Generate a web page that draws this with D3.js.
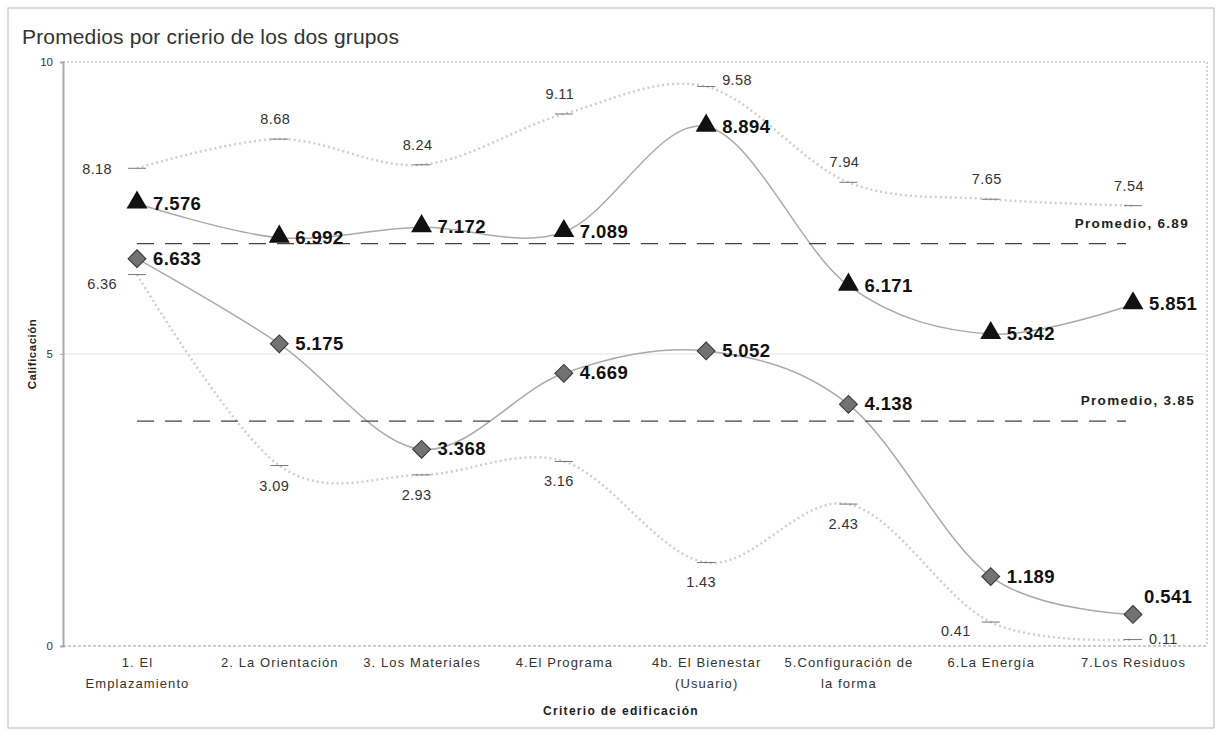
<!DOCTYPE html>
<html><head><meta charset="utf-8">
<script src="https://cdn.jsdelivr.net/npm/d3@7"></script>
<style>
body{margin:0;background:#fff;}
text{font-family:"Liberation Sans",Arial,sans-serif;}
</style></head>
<body><svg id="c" width="1216" height="733"></svg>
<script>
const categories = [["1. El","Emplazamiento"],["2. La Orientación"],["3. Los Materiales"],["4.El Programa"],["4b. El Bienestar","(Usuario)"],["5.Configuración de","la forma"],["6.La Energía"],["7.Los Residuos"]];
const groupA = [7.576, 6.992, 7.172, 7.089, 8.894, 6.171, 5.342, 5.851];
const groupB = [6.633, 5.175, 3.368, 4.669, 5.052, 4.138, 1.189, 0.541];
const maxA = [8.18, 8.68, 8.24, 9.11, 9.58, 7.94, 7.65, 7.54];
const minB = [6.36, 3.09, 2.93, 3.16, 1.43, 2.43, 0.41, 0.11];
const averages = [6.89, 3.85];
const averageLabels = ["Promedio, 6.89", "Promedio, 3.85"];
const yTicks = [0, 5, 10];
const maxPlace = ["left","above","above","above","right","above","above","above"];
const minPlace = ["lowleft","below","below","below","below","below","lowleft","right"];

const svg = d3.select("#c");
const x = d3.scalePoint().domain(categories.map((d,i)=>i)).range([137, 1133]);
const y = d3.scaleLinear().domain([0,10]).range([646, 62]);
const L = 63, R = 1207;

// outer frame
svg.append("rect").attr("x",8).attr("y",8).attr("width",1206).attr("height",720)
  .attr("fill","none").attr("stroke","#c4c4c4").attr("stroke-width",1.2);

// title
svg.append("text").attr("x",22).attr("y",44).attr("font-size",21).attr("fill","#333")
  .attr("letter-spacing",0.15).text("Promedios por crierio de los dos grupos");

// plot border
svg.append("line").attr("x1",L).attr("x2",R).attr("y1",y(10)).attr("y2",y(10)).attr("stroke","#aaa").attr("stroke-dasharray","2,2");
svg.append("line").attr("x1",R).attr("x2",R).attr("y1",y(10)).attr("y2",y(0)).attr("stroke","#aaa").attr("stroke-dasharray","2,2");
svg.append("line").attr("x1",L).attr("x2",R).attr("y1",y(5)).attr("y2",y(5)).attr("stroke","#eee").attr("stroke-width",1.5);

// y axis
const yAxis = svg.append("g").attr("transform",`translate(${L},0)`)
  .call(d3.axisLeft(y).tickValues(yTicks).tickSize(3).tickFormat(d3.format("d")));
yAxis.select(".domain").attr("stroke","#aaa").attr("stroke-width",2);
yAxis.selectAll(".tick line").attr("stroke","#aaa");
yAxis.selectAll("text").attr("font-size",11.5).attr("fill","#333").attr("x",-10);

// x axis
const xAxis = svg.append("g").attr("transform",`translate(0,${y(0)})`)
  .call(d3.axisBottom(x).tickSize(0).tickFormat(""));
xAxis.select(".domain").attr("d",`M${L},0H${R}`).attr("stroke","#999").attr("stroke-dasharray","3,2");
xAxis.selectAll(".tick").each(function(d){
  const t = d3.select(this).append("text").attr("text-anchor","middle").attr("font-size",13).attr("fill","#333").attr("letter-spacing",1.1);
  categories[d].forEach((s,k)=>t.append("tspan").attr("x",0).attr("y",21+k*21).text(s));
});

svg.append("text").attr("x",621).attr("y",715).attr("text-anchor","middle").attr("font-size",12)
  .attr("font-weight","bold").attr("fill","#222").attr("letter-spacing",1.3).text("Criterio de edificación");
svg.append("text").attr("transform",`translate(36,${y(5)}) rotate(-90)`).attr("text-anchor","middle")
  .attr("font-size",11.5).attr("font-weight","bold").attr("fill","#222").attr("letter-spacing",0.5).text("Calificación");

const line = d3.line().x((d,i)=>x(i)).y(d=>y(d)).curve(d3.curveCatmullRom.alpha(0));

// min/max dotted lines
[maxA, minB].forEach(arr=>{
  svg.append("path").attr("d",line(arr)).attr("fill","none").attr("stroke","#cfcfcf")
    .attr("stroke-width",2.5).attr("stroke-dasharray","2,3");
});
// main lines
[groupA, groupB].forEach(arr=>{
  svg.append("path").attr("d",line(arr)).attr("fill","none").attr("stroke","#aaa").attr("stroke-width",1.5);
});

// average dashed lines
averages.forEach((v,i)=>{
  svg.append("line").attr("x1",x(0)).attr("x2",1126).attr("y1",y(v)).attr("y2",y(v))
    .attr("stroke","#444").attr("stroke-width",1.3).attr("stroke-dasharray","17,11");
  svg.append("text").attr("x",i===0?1189:1195).attr("y",y(v)-16).attr("text-anchor","end").attr("font-size",13.5)
    .attr("font-weight","bold").attr("fill","#222").attr("letter-spacing",1.3).text(averageLabels[i]);
});

// min/max dash markers & labels
function minmax(arr, place){
  arr.forEach((v,i)=>{
    const cx = x(i), cy = y(v);
    svg.append("line").attr("x1",cx-9).attr("x2",cx+9).attr("y1",cy).attr("y2",cy).attr("stroke","#777").attr("stroke-width",1);
    let tx=cx, ty=cy, anchor="middle";
    if(place[i]==="above"){ty=cy-15; tx=cx-4;}
    else if(place[i]==="below"){ty=cy+25; tx=cx-5;}
    else if(place[i]==="left"){tx=cx-25; ty=cy+6; anchor="end";}
    else if(place[i]==="lowleft"){tx=cx-20; ty=cy+14; anchor="end";}
    else if(place[i]==="right"){tx=cx+16; ty=cy+(v<1?4:-2); anchor="start";}
    svg.append("text").attr("x",tx).attr("y",ty).attr("text-anchor",anchor).attr("font-size",14.5)
      .attr("fill","#333").attr("letter-spacing",0.4).text(d3.format(".2f")(v));
  });
}
minmax(maxA, maxPlace);
minmax(minB, minPlace);

// markers
const tri = d3.symbol().type(d3.symbolTriangle).size(190);
groupA.forEach((v,i)=>{
  svg.append("path").attr("d",tri()).attr("transform",`translate(${x(i)},${y(v)-1})`).attr("fill","#111");
  svg.append("text").attr("x",x(i)+16).attr("y",y(v)+6).attr("font-size",18.5).attr("font-weight","bold")
    .attr("fill","#111").attr("letter-spacing",0.4).text(d3.format(".3f")(v));
});
const sq = d3.symbol().type(d3.symbolSquare).size(160);
groupB.forEach((v,i)=>{
  svg.append("path").attr("d",sq()).attr("transform",`translate(${x(i)},${y(v)}) rotate(45)`).attr("fill","#727272").attr("stroke","#333").attr("stroke-width",1);
  const last = i===groupB.length-1;
  svg.append("text").attr("x",x(i)+(last?11:16)).attr("y",y(v)+(last?-11:6)).attr("font-size",18.5).attr("font-weight","bold")
    .attr("fill","#111").attr("letter-spacing",0.4).text(d3.format(".3f")(v));
});
</script></body></html>
